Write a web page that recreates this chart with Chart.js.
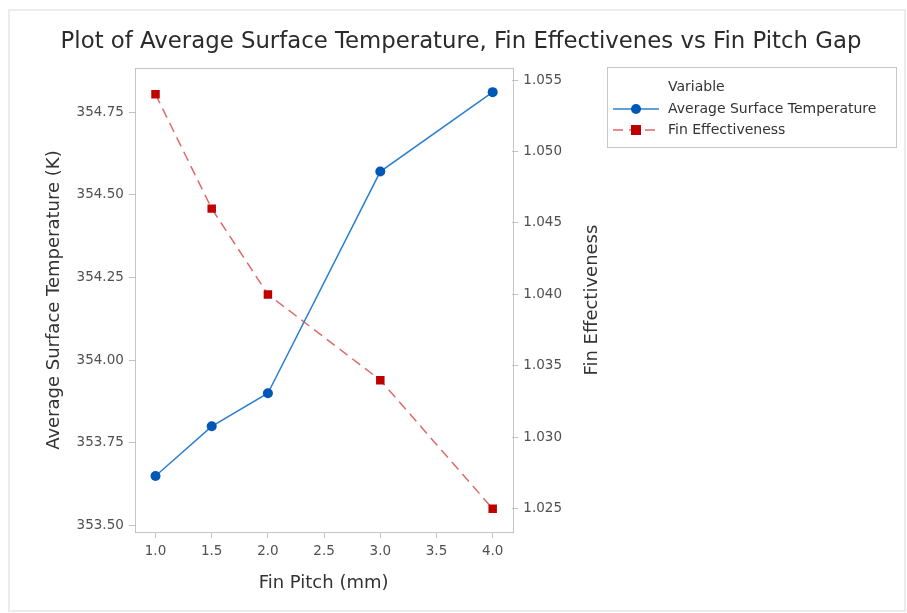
<!DOCTYPE html>
<html>
<head>
<meta charset="utf-8">
<script src="https://cdn.jsdelivr.net/npm/chart.js@4.4.1/dist/chart.umd.min.js"></script>
<style>
  html, body { margin: 0; padding: 0; background: #fff; }
  #wrap { width: 907px; height: 613px; position: relative; }
</style>
</head>
<body>
<div id="wrap"><canvas id="myChart" width="907" height="613"></canvas></div>
<script>
// data
const pitch = [1.0, 1.5, 2.0, 3.0, 4.0];
const avgTemp = [353.65, 353.80, 353.90, 354.57, 354.81];
const finEff = [1.054, 1.046, 1.040, 1.034, 1.025];

const xTicks = [1.0, 1.5, 2.0, 2.5, 3.0, 3.5, 4.0];
const tempTicks = [353.50, 353.75, 354.00, 354.25, 354.50, 354.75];
const effTicks = [1.025, 1.030, 1.035, 1.040, 1.045, 1.050, 1.055];

const titleText = "Plot of Average Surface Temperature, Fin Effectivenes vs Fin Pitch Gap";

const FONT = "'DejaVu Sans', 'Noto Sans', sans-serif";
const tickColor = "#505050";
const textColor = "#333";
const axisLine = "#c4c4c4";

const blueLine = "#2a7fd0";
const blueDot = "#0057b5";
const redLine = "#e06a6a";
const redDot = "#c00000";

const ctx = document.getElementById("myChart").getContext("2d");

function pts(ys) {
  return pitch.map((x, i) => ({ x: x, y: ys[i] }));
}

// frame, outer border, main title and right axis title
const framePlugin = {
  id: "frame",
  afterDraw(chart) {
    const c = chart.ctx;
    const a = chart.chartArea;
    c.save();
    c.strokeStyle = axisLine;
    c.lineWidth = 1;
    c.strokeRect(Math.round(a.left) + 0.5, Math.round(a.top) + 0.5,
      Math.round(a.right - a.left), Math.round(a.bottom - a.top));
    c.strokeStyle = "#ececec";
    c.lineWidth = 2;
    c.strokeRect(9, 10, 896, 601);

    c.fillStyle = "#2b2b2b";
    c.font = "22.8px " + FONT;
    c.textAlign = "center";
    c.textBaseline = "middle";
    c.fillText(titleText, 461, 42);

    // right axis title reads bottom to top like the left one
    const r = chart.scales.y1;
    c.fillStyle = textColor;
    c.font = "18px " + FONT;
    c.translate(r.right + 25, (a.top + a.bottom) / 2);
    c.rotate(-Math.PI / 2);
    c.fillText("Fin Effectiveness", 0, 0);
    c.restore();
  },
};

// Minitab style legend box on the right
const legendBox = {
  id: "legendBox",
  afterDraw(chart) {
    const c = chart.ctx;
    const x0 = 607, y0 = 67, w = 289, h = 80;
    c.save();
    c.strokeStyle = "#c8c8c8";
    c.lineWidth = 1;
    c.strokeRect(x0 + 0.5, y0 + 0.5, w, h);
    c.font = "14px " + FONT;
    c.fillStyle = textColor;
    c.textBaseline = "middle";
    c.fillText("Variable", 668, 87);
    chart.data.datasets.forEach((ds, i) => {
      const y = 109 + i * 21;
      c.strokeStyle = ds.borderColor;
      c.lineWidth = ds.borderWidth;
      c.setLineDash(ds.borderDash || []);
      c.beginPath();
      c.moveTo(613, y);
      c.lineTo(659, y);
      c.stroke();
      c.setLineDash([]);
      c.fillStyle = ds.pointBackgroundColor;
      if (ds.pointStyle === "rect") {
        c.fillRect(631, y - 5, 10, 10);
      } else {
        c.beginPath();
        c.arc(636, y, 5, 0, Math.PI * 2);
        c.fill();
      }
      c.fillStyle = textColor;
      c.fillText(ds.label, 668, y);
    });
    c.restore();
  },
};

const config = {
  type: "line",
  data: {
    datasets: [
      {
        label: "Average Surface Temperature",
        data: pts(avgTemp),
        yAxisID: "y",
        borderColor: blueLine,
        borderWidth: 1.5,
        pointStyle: "circle",
        pointRadius: 5,
        pointBackgroundColor: blueDot,
        pointBorderColor: blueDot,
        pointBorderWidth: 0,
        tension: 0,
      },
      {
        label: "Fin Effectiveness",
        data: pts(finEff),
        yAxisID: "y1",
        borderColor: redLine,
        borderWidth: 1.5,
        borderDash: [10, 6],
        pointStyle: "rect",
        pointRadius: 6,
        pointBackgroundColor: redDot,
        pointBorderColor: redDot,
        pointBorderWidth: 0,
        tension: 0,
      },
    ],
  },
  options: {
    responsive: false,
    animation: false,
    layout: {
      padding: { left: 44, right: 340, top: 68, bottom: 19 },
    },
    plugins: {
      legend: { display: false },
      tooltip: { enabled: false },
      title: { display: false },
    },
    scales: {
      x: {
        type: "linear",
        min: 0.816,
        max: 4.175,
        afterBuildTicks: (s) => { s.ticks = xTicks.map((v) => ({ value: v })); },
        ticks: {
          autoSkip: false,
          maxRotation: 0,
          color: tickColor,
          font: { family: FONT, size: 13.5 },
          padding: 5,
          callback: (v) => Number(v).toFixed(1),
        },
        grid: { drawOnChartArea: false, tickLength: 6, color: axisLine },
        border: { display: false },
        title: {
          display: true,
          text: "Fin Pitch (mm)",
          color: textColor,
          font: { family: FONT, size: 18 },
          padding: { top: 8, bottom: 0 },
        },
      },
      y: {
        position: "left",
        min: 353.48,
        max: 354.883,
        afterBuildTicks: (s) => { s.ticks = tempTicks.map((v) => ({ value: v })); },
        ticks: {
          autoSkip: false,
          color: tickColor,
          font: { family: FONT, size: 13.5 },
          padding: 5,
          callback: (v) => Number(v).toFixed(2),
        },
        grid: { drawOnChartArea: false, tickLength: 6, color: axisLine },
        border: { display: false },
        title: {
          display: true,
          text: "Average Surface Temperature (K)",
          color: textColor,
          font: { family: FONT, size: 18 },
          padding: { top: 0, bottom: 6 },
        },
      },
      y1: {
        position: "right",
        min: 1.02336,
        max: 1.05584,
        afterBuildTicks: (s) => { s.ticks = effTicks.map((v) => ({ value: v })); },
        ticks: {
          autoSkip: false,
          color: tickColor,
          font: { family: FONT, size: 13.5 },
          padding: 5,
          callback: (v) => Number(v).toFixed(3),
        },
        grid: { drawOnChartArea: false, tickLength: 6, color: axisLine },
        border: { display: false },
        title: { display: false },
      },
    },
  },
  plugins: [framePlugin, legendBox],
};

const newChart = new Chart(ctx, config);
</script>
</body>
</html>
